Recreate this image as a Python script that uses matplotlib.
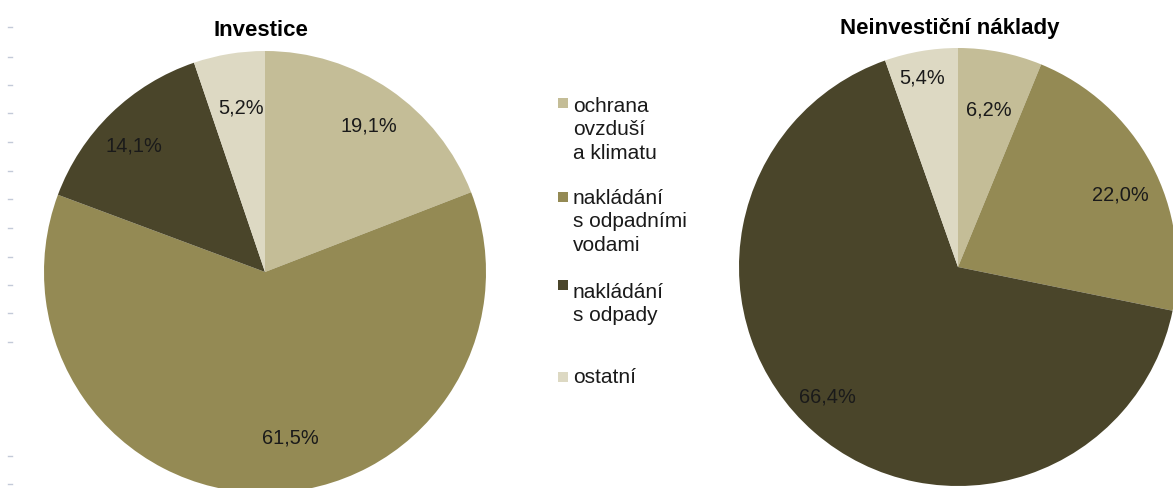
#! /usr/bin/env python3

import matplotlib
matplotlib.use('Agg')
import matplotlib.pyplot as plt
from matplotlib.patches import Rectangle
from matplotlib.lines import Line2D
import numpy as np

plt.rcParams['font.family'] = ['Liberation Sans', 'DejaVu Sans']

W, H = 1173, 488

categories = ['ochrana\novzduší\na klimatu',
              'nakládání\ns odpadními\nvodami',
              'nakládání\ns odpady',
              'ostatní']
invest = [19.1, 61.5, 14.1, 5.2]
neinvest = [6.2, 22.0, 66.4, 5.4]
titles = ['Investice', 'Neinvestiční náklady']

colors = ['#C4BD97', '#948A54', '#4A452A', '#DDD9C3']

fig = plt.figure(figsize=(W / 100, H / 100), dpi=100)
fig.patch.set_facecolor('white')


def px_axes(cx, cy, r):
    # square axes centred on (cx, cy) in pixels measured from the top left
    return fig.add_axes([(cx - r) / W, (H - cy - r) / H, 2 * r / W, 2 * r / H])


def draw_pie(ax, values, label_dist, label_turn):
    wedges, _ = ax.pie(values, colors=colors, startangle=90, counterclock=False,
                       radius=1, wedgeprops=dict(linewidth=0))
    for w, v, d, t in zip(wedges, values, label_dist, label_turn):
        mid = np.deg2rad((w.theta1 + w.theta2) / 2 + t)
        ax.text(d * np.cos(mid), d * np.sin(mid),
                f'{v:.1f}%'.replace('.', ','),
                ha='center', va='center', fontsize=14.4, color='#1a1a1a')
    ax.set_xlim(-1, 1)
    ax.set_ylim(-1, 1)
    ax.set_aspect('equal')
    ax.axis('off')


ax1 = px_axes(265, 272, 221)
draw_pie(ax1, invest, [0.81, 0.76, 0.82, 0.75], [-1, 8.5, 2, -1])
ax2 = px_axes(958, 267, 219)
draw_pie(ax2, neinvest, [0.73, 0.81, 0.84, 0.88], [0, -4, -4, 1])

# titles above the pies
fig.text(261 / W, 1 - 36 / H, titles[0], ha='center', va='baseline',
         fontsize=16, fontweight='bold', color='black')
fig.text(950 / W, 1 - 34 / H, titles[1], ha='center', va='baseline',
         fontsize=16, fontweight='bold', color='black')

# legend between the pies, one text per line so the baselines stay put
box_y = [103, 197, 285, 377]
base_y = [112, 204, 298, 383]
line_step = 23.3
for name, c, yb, yt in zip(categories, colors, box_y, base_y):
    fig.patches.append(Rectangle((558 / W, 1 - (yb + 5) / H), 10 / W, 10 / H,
                                 transform=fig.transFigure, facecolor=c,
                                 edgecolor='none'))
    for i, line in enumerate(name.split('\n')):
        fig.text(573 / W, 1 - (yt + i * line_step) / H, line, ha='left',
                 va='baseline', fontsize=15, color='#1a1a1a')

# faint margin ticks on the left edge
for y in [27, 57, 85, 113, 142, 171, 199, 228, 257, 285, 313, 342, 456, 484]:
    fig.add_artist(Line2D([8 / W, 12 / W], [1 - y / H, 1 - y / H],
                          transform=fig.transFigure, color='#c3cad8', lw=1))

fig.savefig('out.png', dpi=100)
